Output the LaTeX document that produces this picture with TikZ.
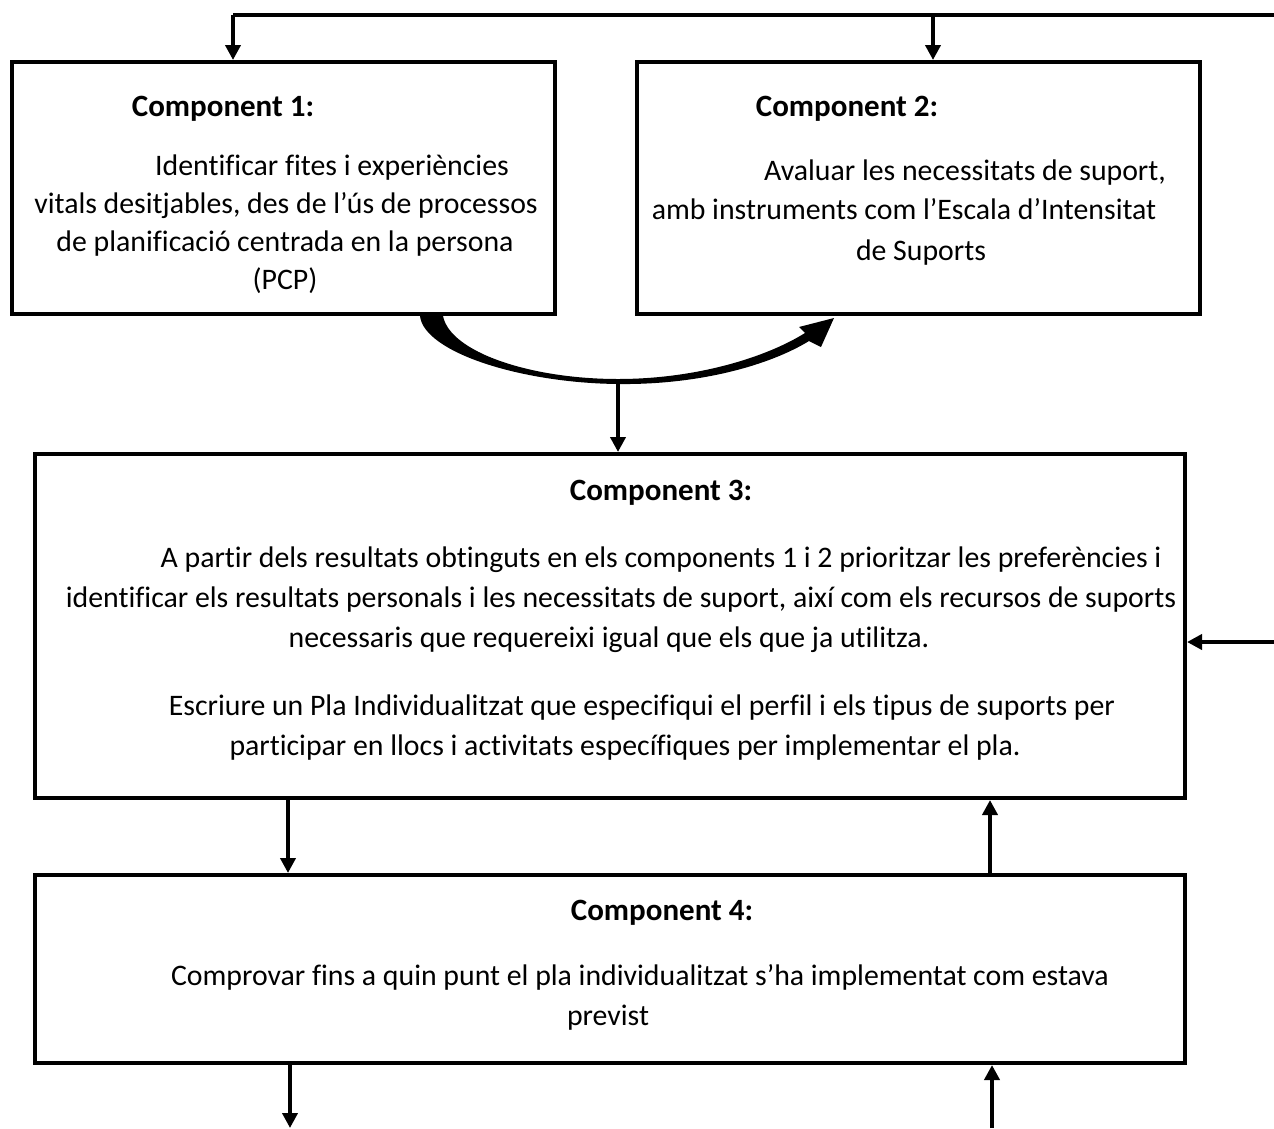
\documentclass[tikz,border=0pt]{standalone}
\usepackage{fontspec}
\setmainfont{Carlito}[Ligatures=NoCommon]
\usetikzlibrary{arrows.meta}
\begin{document}
\begin{tikzpicture}[x=1pt,y=-1pt,
  box/.style={draw,line width=4pt,rectangle,inner sep=0pt},
  conn/.style={line width=4pt,-{Triangle[width=15pt,length=15pt]}},
  plain/.style={line width=4.5pt},
  txt/.style={anchor=base,inner sep=0pt,yshift=-3pt,font=\fontsize{29.8}{34}\selectfont},
  ttl/.style={anchor=base,inner sep=0pt,yshift=-3pt,font=\fontsize{31}{34}\selectfont\bfseries}]
\useasboundingbox (0,0) rectangle (1274,1128);
% boxes
\node[box,minimum width=543pt,minimum height=252pt] (b1) at (283.5,188) {};
\node[box,minimum width=563pt,minimum height=252pt] (b2) at (918.5,188) {};
\node[box,minimum width=1150pt,minimum height=344pt] (b3) at (610,626) {};
\node[box,minimum width=1150pt,minimum height=188pt] (b4) at (610,969) {};
% box 1 text
\node[ttl] (t1) at (223,113) {Component 1:};
\node[txt] (t1a) at (332,172) {Identificar fites i experiències};
\node[txt] (t1b) at (286,210) {vitals desitjables, des de l’ús de processos};
\node[txt] (t1c) at (285,248) {de planificació centrada en la persona};
\node[txt] (t1d) at (285,286) {(PCP)};
% box 2 text
\node[ttl] (t2) at (847,113) {Component 2:};
\node[txt] (t2a) at (965,177) {Avaluar les necessitats de suport,};
\node[txt] (t2b) at (904,216) {amb instruments com l’Escala d’Intensitat};
\node[txt] (t2c) at (921,257) {de Suports};
% box 3 text
\node[ttl] (t3) at (661,497) {Component 3:};
\node[txt] (t3a) at (661,564) {A partir dels resultats obtinguts en els components 1 i 2 prioritzar les preferències i};
\node[txt] (t3b) at (621,604) {identificar els resultats personals i les necessitats de suport, així com els recursos de suports};
\node[txt] (t3c) at (609,644) {necessaris que requereixi igual que els que ja utilitza.};
\node[txt] (t3d) at (642,712) {Escriure un Pla Individualitzat que especifiqui el perfil i els tipus de suports per};
\node[txt] (t3e) at (625,752) {participar en llocs i activitats específiques per implementar el pla.};
% box 4 text
\node[ttl] (t4) at (662,917) {Component 4:};
\node[txt] (t4a) at (640,982) {Comprovar fins a quin punt el pla individualitzat s’ha implementat com estava};
\node[txt] (t4b) at (608,1022) {previst};
% top feedback line
\coordinate (topR) at (1274,15);
\coordinate (topL) at (233,15);
\coordinate (topM) at (933,15);
\draw[plain] (topR) -- (topL);
\draw[conn] (topL) -- (topL |- b1.north);
\draw[conn] (topM) -- (topM |- b2.north);
% curved arrow from box 1 to box 2
\fill (420,316) .. controls (424,352) and (520,383) .. (618,384)
  .. controls (700,385) and (770,365) .. (809,341)
  -- (821,347) -- (834,318) -- (799,327) -- (805,333)
  .. controls (765,358) and (695,379) .. (618,379)
  .. controls (530,379) and (450,352) .. (443,316) -- cycle;
\coordinate (cb) at (618,382);
\draw[conn] (cb) -- (cb |- b3.north);
% right side arrow
\coordinate (rt) at (1274,642);
\draw[conn] (rt) -- (rt -| b3.east);
% box3 - box4
\coordinate (dL) at (288,800);
\coordinate (dR) at (990,800);
\draw[conn] (dL |- b3.south) -- (dL |- b4.north);
\draw[conn] (dR |- b4.north) -- (dR |- b3.south);
% bottom
\coordinate (eL) at (290,1128);
\coordinate (eR) at (992,1128);
\draw[conn] (eL |- b4.south) -- (eL);
\draw[conn] (eR) -- (eR |- b4.south);
\end{tikzpicture}
\end{document}
